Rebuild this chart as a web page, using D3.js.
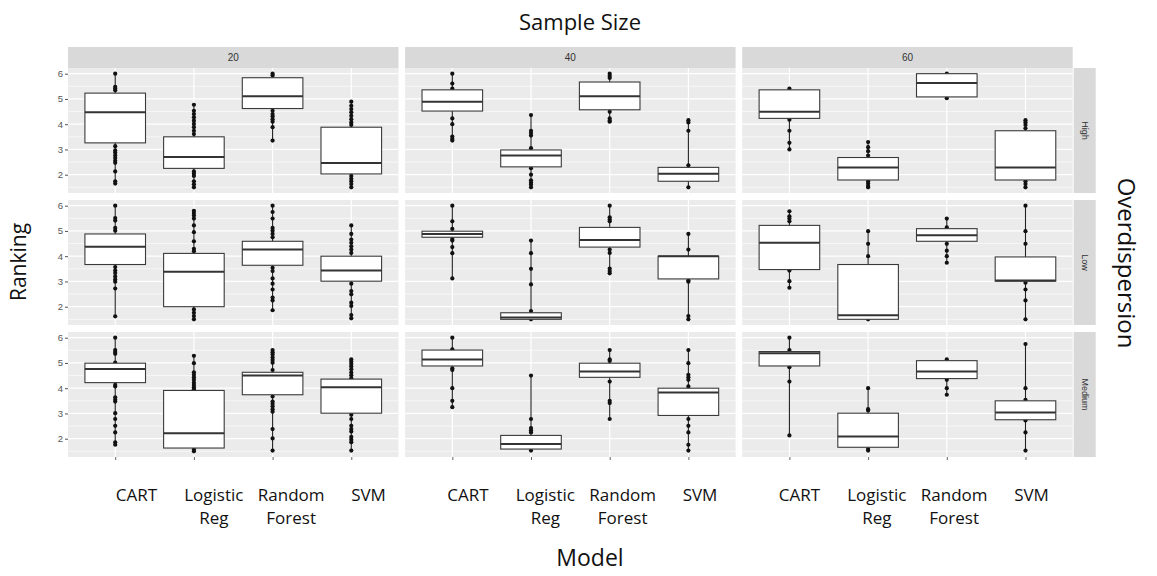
<!DOCTYPE html>
<html><head><meta charset="utf-8">
<script src="https://cdn.jsdelivr.net/npm/d3@7"></script>
<style>html,body{margin:0;padding:0;background:#fff;}svg{display:block;}</style>
</head><body>
<svg id="chart" width="1157" height="576"></svg>
<script>
const sizes = ["20","40","60"];
const dispersions = ["High","Low","Medium"];
const models = ["CART","Logistic Reg","Random Forest","SVM"];
const modelLabels = [["CART"],["Logistic","Reg"],["Random","Forest"],["SVM"]];
const yTicks = [2,3,4,5,6];
const yMinor = [1.5,2.5,3.5,4.5,5.5];

// [whiskerLow, q1, median, q3, whiskerHigh] per model, per sample size
const highStats = [
 [[1.65,3.26,4.47,5.23,6.0],[1.5,2.25,2.70,3.50,4.77],[3.35,4.62,5.11,5.84,6.0],[1.5,2.03,2.46,3.88,4.89]],
 [[3.35,4.52,4.89,5.36,6.0],[1.5,2.31,2.76,2.98,4.36],[4.1,4.57,5.11,5.67,6.0],[1.5,1.74,2.04,2.29,4.16]],
 [[3.0,4.23,4.49,5.36,5.41],[1.5,1.79,2.28,2.68,3.29],[5.03,5.08,5.63,6.0,6.0],[1.5,1.79,2.28,3.74,4.16]]
];
const lowStats = [
 [[1.62,3.67,4.37,4.88,6.0],[1.5,2.0,3.38,4.11,5.8],[1.86,3.64,4.26,4.59,6.0],[1.54,3.01,3.43,4.0,5.22]],
 [[3.12,4.75,4.88,4.99,6.0],[1.5,1.5,1.57,1.76,4.62],[3.32,4.36,4.64,5.14,6.0],[1.5,3.1,4.0,4.0,4.88]],
 [[2.75,3.47,4.53,5.22,5.78],[1.5,1.5,1.66,3.67,4.99],[3.74,4.59,4.83,5.09,5.49],[1.5,3.01,3.04,3.97,6.0]]
];
const mediumStats = [
 [[1.76,4.22,4.76,4.99,6.0],[1.5,1.63,2.22,3.91,5.28],[1.53,3.74,4.5,4.63,5.51],[1.53,3.01,4.04,4.36,5.14]],
 [[3.25,4.88,5.14,5.51,6.0],[1.53,1.59,1.79,2.13,4.5],[2.78,4.43,4.66,4.99,5.51],[1.53,2.92,3.83,4.0,5.51]],
 [[2.13,4.88,5.38,5.45,6.0],[1.53,1.66,2.09,3.01,4.0],[3.74,4.38,4.66,5.09,5.14],[1.53,2.75,3.04,3.5,5.75]]
];
// individual rankings visible outside the boxes
const highPoints = [
 [[6.0,5.48,5.41,5.34,3.13,2.96,2.87,2.76,2.66,2.55,2.47,2.13,1.74,1.65],[4.77,4.53,4.40,4.27,4.14,4.01,3.88,3.74,3.61,2.13,2.04,1.95,1.74,1.62,1.5],[6.0,5.93,4.53,4.40,4.31,4.2,4.1,3.88,3.35],[4.89,4.73,4.6,4.47,4.33,4.2,4.07,3.97,1.95,1.84,1.74,1.63,1.5]],
 [[6.0,5.61,5.41,4.23,4.0,3.51,3.42,3.35],[4.36,3.74,3.65,3.55,3.05,2.26,2.0,1.78,1.69,1.61,1.5],[6.0,5.91,5.83,4.49,4.23,4.14,4.1],[4.16,4.07,3.74,2.37,1.5]],
 [[5.41,4.18,3.74,3.26,3.0],[3.29,3.09,2.93,2.76,1.74,1.65,1.55,1.5],[6.0,5.03],[4.16,4.07,3.97,3.84,1.74,1.63,1.5]]
];
const lowPoints = [
 [[6.0,5.51,5.41,5.12,5.01,3.57,3.43,3.33,3.2,3.08,2.99,2.72,1.62],[5.8,5.71,5.61,5.49,5.22,4.95,4.59,4.29,4.2,1.89,1.76,1.63,1.5],[6.0,5.75,5.49,5.12,5.01,4.88,4.75,3.54,3.41,3.12,2.91,2.68,2.36,2.25,1.86],[5.22,4.88,4.66,4.53,4.39,4.26,4.13,2.91,2.62,2.49,2.16,2.03,1.67,1.54]],
 [[6.0,5.38,5.08,4.68,4.62,4.36,4.12,3.12],[4.62,4.12,3.5,2.88,1.83,1.5],[6.0,5.54,5.45,5.38,4.26,4.13,3.51,3.41,3.32],[4.88,4.26,3.04,2.99,1.63,1.5]],
 [[5.78,5.58,5.49,5.38,3.43,3.01,2.75],[4.99,4.49,4.0,1.5],[5.49,5.14,4.49,4.22,4.0,3.74],[6.0,4.99,4.49,2.95,2.68,2.25,1.5]]
];
const mediumPoints = [
 [[6.0,5.51,5.43,5.36,5.01,4.13,4.07,3.64,3.54,3.47,3.01,2.78,2.51,2.25,1.86,1.76],[5.28,4.99,4.63,4.53,4.43,4.33,4.22,4.13,4.04,3.96,1.57,1.5],[5.51,5.42,5.33,5.22,5.12,5.01,4.72,3.67,3.47,3.38,3.28,3.17,3.07,2.38,2.01,1.53],[5.14,5.05,4.96,4.86,4.75,4.62,4.51,4.39,2.95,2.78,2.51,2.38,2.28,2.07,1.96,1.86,1.53]],
 [[6.0,5.54,4.79,4.72,4.0,3.5,3.25],[4.5,2.78,2.42,2.33,2.25,1.53],[5.51,5.14,5.08,4.26,3.5,3.41,2.78],[5.51,4.99,4.53,4.43,4.33,4.07,2.78,2.51,2.25,1.76,1.53]],
 [[6.0,5.51,4.83,4.26,2.13],[4.0,3.17,3.12,1.59,1.53],[5.14,4.33,4.0,3.74],[5.75,4.0,3.54,2.72,2.25,1.53]]
];

const statsByRow = [highStats, lowStats, mediumStats];
const pointsByRow = [highPoints, lowPoints, mediumPoints];

// layout
const leftX = 68, topY = 47, stripH = 21, panelW = 330.5, panelH = 125, gapX = 6.6, gapY = 7;
const panelTop = topY + stripH;
const svg = d3.select("#chart");

// ggplot discrete: 0.6 expansion each side
const xPoint = d3.scalePoint().domain(models).range([panelW*0.6/4.2, panelW - panelW*0.6/4.2]);
const unitW = xPoint.step();
const boxW = unitW * 0.77;
const y = d3.scaleLinear().domain([1.275, 6.225]).range([panelH, 0]);

const colX = i => leftX + i*(panelW+gapX);
const rowY = j => panelTop + j*(panelH+gapY);

dispersions.forEach((disp, j) => {
  sizes.forEach((sz, i) => {
    const g = svg.append("g").attr("transform", `translate(${colX(i)},${rowY(j)})`);
    g.append("rect").attr("width", panelW).attr("height", panelH).attr("fill", "#ebebeb");
    g.selectAll(".ymin").data(yMinor).join("line")
      .attr("x1",0).attr("x2",panelW).attr("y1",d=>y(d)).attr("y2",d=>y(d))
      .attr("stroke","#fff").attr("stroke-width",0.6);
    g.selectAll(".ymaj").data(yTicks).join("line")
      .attr("x1",0).attr("x2",panelW).attr("y1",d=>y(d)).attr("y2",d=>y(d))
      .attr("stroke","#fff").attr("stroke-width",1.2);
    g.selectAll(".xmaj").data(models).join("line")
      .attr("x1",d=>xPoint(d)).attr("x2",d=>xPoint(d)).attr("y1",0).attr("y2",panelH)
      .attr("stroke","#fff").attr("stroke-width",1.2);

    const stats = statsByRow[j][i];
    const pts = pointsByRow[j][i];
    models.forEach((m, k) => {
      const [lo,q1,med,q3,hi] = stats[k];
      const cx = xPoint(m);
      g.append("line").attr("x1",cx).attr("x2",cx).attr("y1",y(lo)).attr("y2",y(hi))
        .attr("stroke","#222").attr("stroke-width",1.1);
      g.selectAll(null).data(pts[k]).join("circle")
        .attr("cx",cx).attr("cy",d=>y(d)).attr("r",2.1).attr("fill","#111");
      g.append("rect").attr("x",cx-boxW/2).attr("width",boxW)
        .attr("y",y(q3)).attr("height",Math.max(y(q1)-y(q3),1))
        .attr("fill","#fff").attr("stroke","#3a3a3a").attr("stroke-width",1.1);
      g.append("line").attr("x1",cx-boxW/2).attr("x2",cx+boxW/2).attr("y1",y(med)).attr("y2",y(med))
        .attr("stroke","#333").attr("stroke-width",2);
    });

    if (i === 0) {
      const ax = g.append("g").call(d3.axisLeft(y).tickValues(yTicks).tickSize(3).tickPadding(2).tickFormat(d3.format("d")));
      ax.select(".domain").remove();
      ax.selectAll("line").attr("stroke","#555");
      ax.selectAll("text").attr("fill","#555").attr("font-size","9.5px").attr("font-family","Liberation Sans, Arial, sans-serif");
    }
    if (j === dispersions.length-1) {
      const ax = g.append("g").attr("transform",`translate(0,${panelH})`)
        .call(d3.axisBottom(xPoint).tickSize(3).tickFormat(""));
      ax.select(".domain").remove();
      ax.selectAll("line").attr("stroke","#666");
    }
  });
});

// top strips
sizes.forEach((sz, i) => {
  svg.append("rect").attr("x",colX(i)).attr("y",topY).attr("width",panelW).attr("height",stripH).attr("fill","#d9d9d9");
  svg.append("text").attr("x",colX(i)+panelW/2).attr("y",topY+stripH/2).attr("dy","0.35em")
    .attr("text-anchor","middle").attr("font-size","10px").attr("fill","#333")
    .attr("font-family","Liberation Sans, Arial, sans-serif").text(sz);
});
// right strips
const stripX = colX(2) + panelW + 1;
dispersions.forEach((d, j) => {
  svg.append("rect").attr("x",stripX).attr("y",rowY(j)).attr("width",22).attr("height",panelH).attr("fill","#d9d9d9");
  svg.append("text").attr("transform",`translate(${stripX+11},${rowY(j)+panelH/2}) rotate(90)`)
    .attr("dy","0.35em").attr("text-anchor","middle").attr("font-size","9px").attr("fill","#333")
    .attr("font-family","Liberation Sans, Arial, sans-serif").text(d);
});

// model labels (overlay text under each panel)
const labelX = d3.scalePoint().domain(models).range([136.5, 368.5]);
const labelFont = "'Open Sans', 'Noto Sans', sans-serif";
sizes.forEach((sz, i) => {
  models.forEach((m, k) => {
    const px = labelX(m) + i*331.5;
    const t = svg.append("text").attr("x", px).attr("y", 501)
      .attr("text-anchor","middle").attr("font-size","17px").attr("fill","#111")
      .attr("font-family", labelFont);
    modelLabels[k].forEach((line, li) => {
      t.append("tspan").attr("x", px).attr("dy", li === 0 ? 0 : 23).text(line);
    });
  });
});

// titles
const titleFont = "'Open Sans', 'Noto Sans', sans-serif";
svg.append("text").attr("x",580).attr("y",30).attr("text-anchor","middle")
  .attr("font-size","22px").attr("font-family",titleFont).attr("fill","#111").text("Sample Size");
svg.append("text").attr("transform","translate(26,262) rotate(-90)").attr("text-anchor","middle")
  .attr("font-size","21px").attr("font-family",titleFont).attr("fill","#111").text("Ranking");
svg.append("text").attr("transform","translate(1118,263) rotate(90)").attr("text-anchor","middle")
  .attr("font-size","24px").attr("font-family",titleFont).attr("fill","#111").text("Overdispersion");
svg.append("text").attr("x",590).attr("y",566).attr("text-anchor","middle")
  .attr("font-size","23px").attr("font-family",labelFont).attr("fill","#111").text("Model");
</script>
</body></html>
